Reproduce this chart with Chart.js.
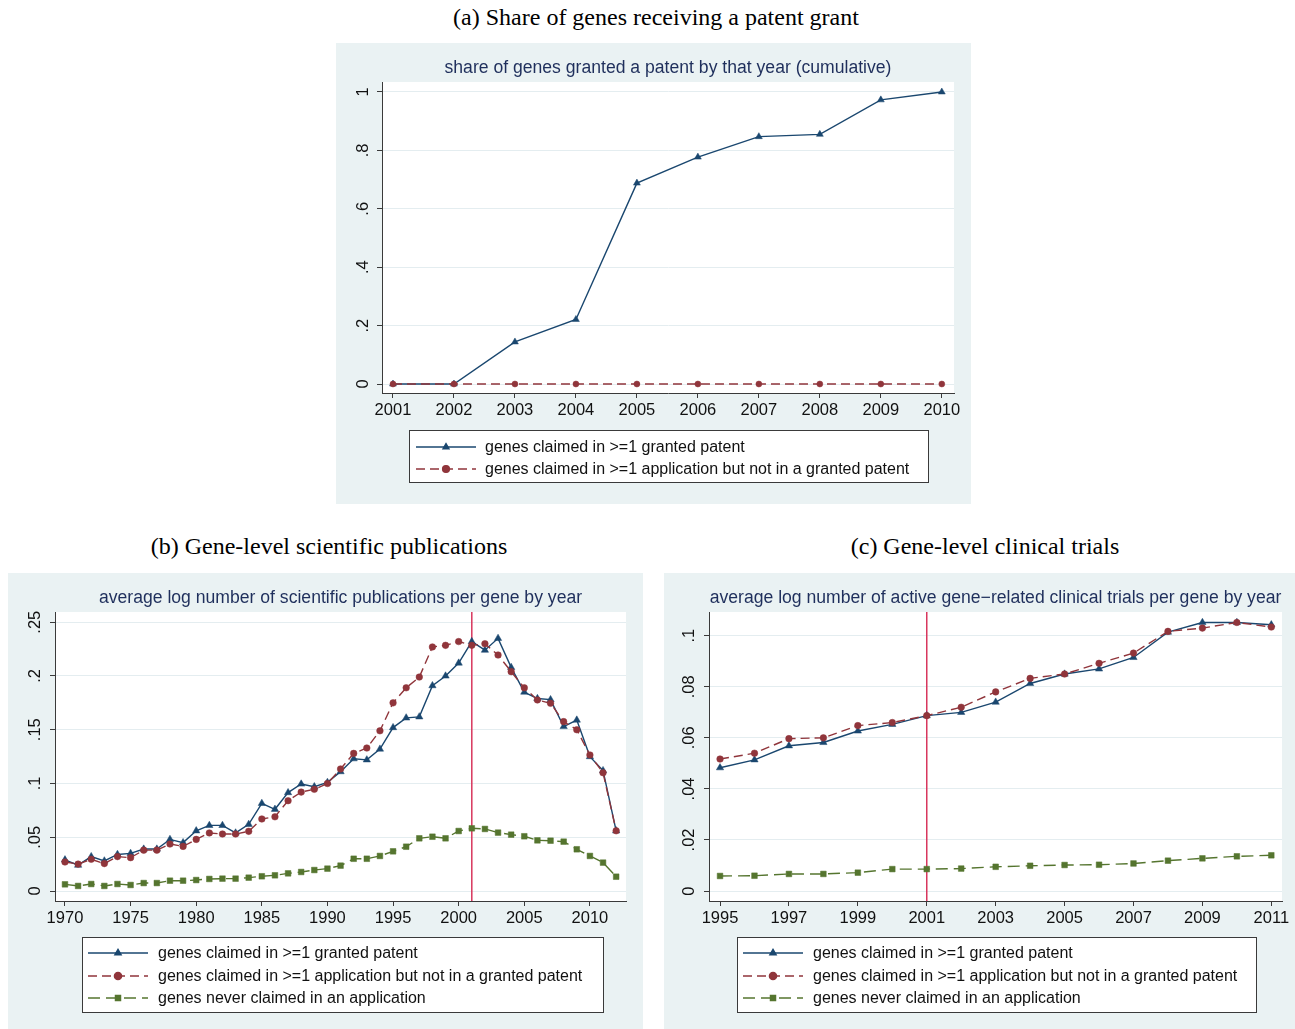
<!DOCTYPE html>
<html>
<head>
<meta charset="utf-8">
<script src="https://cdn.jsdelivr.net/npm/chart.js@4.4.1/dist/chart.umd.min.js"></script>
<style>
  html, body { margin: 0; padding: 0; background: #ffffff; }
  body { position: relative; width: 1295px; height: 1029px; overflow: hidden; }
  .panel { position: absolute; background: #eaf2f3; }
  .panel canvas { position: absolute; left: 0; top: 0; }
  .cap {
    position: absolute; width: 700px; text-align: center; white-space: nowrap;
    font-family: "Liberation Serif", "Times New Roman", serif;
    font-size: 24px; line-height: 26px; color: #000;
  }
</style>
</head>
<body>
<div class="cap" style="left:306px; top:4px;">(a) Share of genes receiving a patent grant</div>
<div class="cap" style="left:-21px; top:533px;">(b) Gene-level scientific publications</div>
<div class="cap" style="left:635px; top:533px;">(c) Gene-level clinical trials</div>

<div class="panel" style="left:336px; top:43px; width:635px; height:461px;">
  <canvas id="patents" width="635" height="461"></canvas>
</div>
<div class="panel" style="left:8px; top:573px; width:635px; height:456px;">
  <canvas id="pubs" width="635" height="456"></canvas>
</div>
<div class="panel" style="left:664px; top:573px; width:631px; height:456px;">
  <canvas id="trials" width="631" height="456"></canvas>
</div>

<script>
// ---------- data ----------
const labelGranted = 'genes claimed in >=1 granted patent';
const labelAppOnly = 'genes claimed in >=1 application but not in a granted patent';
const labelNever   = 'genes never claimed in an application';

// (a) cumulative share of genes granted a patent
const patentYears   = [2001, 2002, 2003, 2004, 2005, 2006, 2007, 2008, 2009, 2010];
const patentGranted = [0, 0, 0.144, 0.221, 0.688, 0.777, 0.847, 0.855, 0.973, 1.0];
const patentAppOnly = [0, 0, 0, 0, 0, 0, 0, 0, 0, 0];
const patentXTicks  = [2001, 2002, 2003, 2004, 2005, 2006, 2007, 2008, 2009, 2010];
const patentYTicks  = [0, 0.2, 0.4, 0.6, 0.8, 1];
const patentYLabels = ['0', '.2', '.4', '.6', '.8', '1'];

// (b) average log publications per gene
const pubYears = [1970, 1971, 1972, 1973, 1974, 1975, 1976, 1977, 1978, 1979,
                  1980, 1981, 1982, 1983, 1984, 1985, 1986, 1987, 1988, 1989,
                  1990, 1991, 1992, 1993, 1994, 1995, 1996, 1997, 1998, 1999,
                  2000, 2001, 2002, 2003, 2004, 2005, 2006, 2007, 2008, 2009,
                  2010, 2011, 2012];
const pubGranted = [0.029, 0.024, 0.032, 0.028, 0.034, 0.035, 0.039, 0.039, 0.048, 0.045,
                    0.056, 0.061, 0.061, 0.054, 0.062, 0.0815, 0.076, 0.0915, 0.0995, 0.097,
                    0.101, 0.111, 0.123, 0.122, 0.132, 0.152, 0.161, 0.162, 0.191, 0.200,
                    0.212, 0.232, 0.224, 0.235, 0.208, 0.185, 0.179, 0.178, 0.153, 0.159,
                    0.125, 0.112, 0.056];
const pubAppOnly = [0.027, 0.025, 0.0295, 0.0255, 0.032, 0.031, 0.038, 0.038, 0.0437, 0.0415,
                    0.048, 0.054, 0.053, 0.053, 0.0555, 0.067, 0.069, 0.084, 0.092, 0.0946,
                    0.100, 0.1135, 0.128, 0.133, 0.149, 0.175, 0.189, 0.199, 0.227, 0.2285,
                    0.232, 0.2285, 0.230, 0.2195, 0.204, 0.189, 0.1777, 0.1746, 0.1575, 0.150,
                    0.1265, 0.110, 0.056];
const pubNever   = [0.0062, 0.0047, 0.0065, 0.0047, 0.0065, 0.0056, 0.0074, 0.0074, 0.0096, 0.0096,
                    0.0102, 0.0112, 0.0115, 0.0115, 0.0124, 0.0137, 0.0146, 0.0164, 0.0177, 0.0195,
                    0.0208, 0.0236, 0.030, 0.030, 0.0326, 0.0369, 0.0412, 0.049, 0.0505, 0.049,
                    0.0558, 0.0583, 0.0577, 0.0543, 0.0524, 0.0509, 0.0471, 0.0468, 0.0459, 0.0388,
                    0.0326, 0.0264, 0.0133];
const pubXTicks  = [1970, 1975, 1980, 1985, 1990, 1995, 2000, 2005, 2010];
const pubYTicks  = [0, 0.05, 0.1, 0.15, 0.2, 0.25];
const pubYLabels = ['0', '.05', '.1', '.15', '.2', '.25'];

// (c) average log active clinical trials per gene
const trialYears   = [1995, 1996, 1997, 1998, 1999, 2000, 2001, 2002, 2003,
                      2004, 2005, 2006, 2007, 2008, 2009, 2010, 2011];
const trialGranted = [0.0483, 0.0514, 0.0569, 0.0582, 0.0627, 0.0653, 0.0687, 0.070, 0.074,
                      0.0813, 0.085, 0.087, 0.0915, 0.1014, 0.1052, 0.1052, 0.1043];
const trialAppOnly = [0.0517, 0.054, 0.0597, 0.060, 0.0648, 0.066, 0.0687, 0.072, 0.078,
                      0.0833, 0.085, 0.0892, 0.0932, 0.1017, 0.103, 0.1052, 0.1034];
const trialNever   = [0.0059, 0.006, 0.0067, 0.0067, 0.0072, 0.0086, 0.0086, 0.0088, 0.0095,
                      0.0099, 0.0102, 0.0103, 0.0108, 0.0119, 0.0128, 0.0136, 0.014];
const trialXTicks  = [1995, 1997, 1999, 2001, 2003, 2005, 2007, 2009, 2011];
const trialYTicks  = [0, 0.02, 0.04, 0.06, 0.08, 0.1];
const trialYLabels = ['0', '.02', '.04', '.06', '.08', '.1'];

// year of the reference line in (b) and (c)
const policyYear = 2001;

// ---------- styles ----------
const NAVY = '#1a476f', MAROON = '#90353b', GREEN = '#55752f';
const TITLE_COLOR = '#1f2f5c';
const AXIS_COLOR = '#3a3a3a';
const GRID_COLOR = '#e4edf0';
const VLINE_COLOR = '#d8365d';
const SANS = '"Liberation Sans", Arial, Helvetica, sans-serif';
const TICK_SIZE = 16.5;
const HEAD_SIZE = 17.6;
const KEY_SIZE = 16;

const seriesStyle = {
  granted: { color: NAVY,   dash: [],      marker: 'triangle', order: 3 },
  appOnly: { color: MAROON, dash: [9, 5],  marker: 'circle',   order: 2 },
  never:   { color: GREEN,  dash: [12, 6], marker: 'rect',     order: 1 }
};

function makeDataset(label, xs, ys, style, radius) {
  return {
    label: label,
    data: xs.map((x, i) => ({ x: x, y: ys[i] })),
    borderColor: style.color,
    backgroundColor: style.color,
    borderWidth: 1.4,
    borderDash: style.dash,
    pointStyle: style.marker,
    pointRadius: radius,
    pointBackgroundColor: style.color,
    pointBorderColor: style.color,
    pointBorderWidth: 0.5,
    tension: 0,
    fill: false,
    order: style.order
  };
}

function drawMarker(ctx, style, r, x, y) {
  if (window.Chart && Chart.helpers && Chart.helpers.drawPoint) {
    Chart.helpers.drawPoint(ctx, { pointStyle: style, radius: r, borderWidth: 0.5, rotation: 0 }, x, y);
    return;
  }
  ctx.beginPath();
  if (style === 'triangle') {
    ctx.moveTo(x, y - r);
    ctx.lineTo(x + r * 0.866, y + r * 0.5);
    ctx.lineTo(x - r * 0.866, y + r * 0.5);
    ctx.closePath();
  } else if (style === 'rect') {
    const s = r * Math.SQRT1_2;
    ctx.rect(x - s, y - s, 2 * s, 2 * s);
  } else {
    ctx.arc(x, y, r, 0, Math.PI * 2);
  }
  ctx.fill();
}

// white plot region, reference line, heading and boxed legend
const panelDecor = {
  id: 'panelDecor',
  beforeDraw(chart) {
    const { ctx, chartArea: a } = chart;
    ctx.save();
    ctx.fillStyle = '#ffffff';
    ctx.fillRect(a.left, a.top, a.right - a.left, a.bottom - a.top);
    ctx.restore();
  },
  beforeDatasetsDraw(chart, args, opts) {
    if (opts.vline == null) return;
    const { ctx, chartArea: a } = chart;
    const x = chart.scales.x.getPixelForValue(opts.vline);
    ctx.save();
    ctx.strokeStyle = VLINE_COLOR;
    ctx.lineWidth = 1.5;
    ctx.beginPath();
    ctx.moveTo(x, a.top);
    ctx.lineTo(x, a.bottom);
    ctx.stroke();
    ctx.restore();
  },
  afterDraw(chart, args, opts) {
    const { ctx, chartArea: a } = chart;
    ctx.save();
    // heading, centred over the plot region
    ctx.fillStyle = TITLE_COLOR;
    ctx.font = HEAD_SIZE + 'px ' + SANS;
    ctx.textAlign = 'center';
    ctx.textBaseline = 'middle';
    ctx.fillText(opts.title, (a.left + a.right) / 2, opts.titleY);

    // legend box
    const L = opts.legend;
    ctx.fillStyle = '#ffffff';
    ctx.fillRect(L.x, L.y, L.w, L.h);
    ctx.strokeStyle = AXIS_COLOR;
    ctx.lineWidth = 1;
    ctx.strokeRect(L.x + 0.5, L.y + 0.5, L.w, L.h);

    chart.data.datasets.forEach((ds, i) => {
      const y = L.rowY[i];
      ctx.strokeStyle = ds.borderColor;
      ctx.lineWidth = ds.borderWidth;
      ctx.setLineDash(ds.borderDash || []);
      ctx.beginPath();
      ctx.moveTo(L.lineX0, y);
      ctx.lineTo(L.lineX1, y);
      ctx.stroke();
      ctx.setLineDash([]);
      ctx.fillStyle = ds.pointBackgroundColor;
      ctx.strokeStyle = ds.pointBorderColor;
      drawMarker(ctx, ds.pointStyle, L.markerR, (L.lineX0 + L.lineX1) / 2, y);
      ctx.fillStyle = '#111111';
      ctx.font = KEY_SIZE + 'px ' + SANS;
      ctx.textAlign = 'left';
      ctx.textBaseline = 'middle';
      ctx.fillText(ds.label, L.textX, y + 1);
    });
    ctx.restore();
  }
};

function makeChart(id, cfg) {
  const canvas = document.getElementById(id);
  const W = canvas.width, H = canvas.height;
  const xAxisH = 30;
  return new Chart(canvas, {
    type: 'line',
    data: { datasets: cfg.datasets },
    plugins: [panelDecor],
    options: {
      responsive: false,
      animation: false,
      events: [],
      devicePixelRatio: 1,
      layout: {
        padding: {
          left: 0,
          top: cfg.area.top,
          right: W - cfg.area.right,
          bottom: H - cfg.area.bottom - xAxisH
        }
      },
      scales: {
        x: {
          type: 'linear',
          min: cfg.xRange[0],
          max: cfg.xRange[1],
          afterBuildTicks: s => { s.ticks = cfg.xTicks.map(v => ({ value: v })); },
          afterFit: s => { s.height = xAxisH; },
          ticks: {
            autoSkip: false, maxRotation: 0, minRotation: 0, padding: 3,
            color: '#111111', font: { family: SANS, size: TICK_SIZE },
            callback: v => String(v)
          },
          grid: { display: true, drawOnChartArea: false, drawTicks: true, tickLength: 5, tickColor: AXIS_COLOR, tickWidth: 1 },
          border: { display: true, color: AXIS_COLOR, width: 1 }
        },
        y: {
          type: 'linear',
          min: cfg.yRange[0],
          max: cfg.yRange[1],
          afterBuildTicks: s => { s.ticks = cfg.yTicks.map(v => ({ value: v })); },
          afterFit: s => { s.width = cfg.area.left; },
          ticks: {
            autoSkip: false, minRotation: 90, maxRotation: 90, crossAlign: 'center',
            padding: cfg.yLabelPad,
            color: '#111111', font: { family: SANS, size: TICK_SIZE },
            callback: (v, i) => cfg.yLabels[i]
          },
          grid: { display: true, drawOnChartArea: true, drawTicks: true, tickLength: 5,
                  color: GRID_COLOR, lineWidth: 1, tickColor: AXIS_COLOR, tickWidth: 1 },
          border: { display: true, color: AXIS_COLOR, width: 1 }
        }
      },
      plugins: {
        legend: { display: false },
        title: { display: false },
        tooltip: { enabled: false },
        panelDecor: {
          title: cfg.title,
          titleY: 25,
          vline: cfg.vline,
          legend: cfg.legend
        }
      }
    }
  });
}

// (a)
makeChart('patents', {
  datasets: [
    makeDataset(labelGranted, patentYears, patentGranted, seriesStyle.granted, 4),
    makeDataset(labelAppOnly, patentYears, patentAppOnly, seriesStyle.appOnly, 3)
  ],
  area: { left: 46, top: 39, right: 618, bottom: 350 },
  xRange: [2000.82, 2010.2],
  yRange: [-0.0308, 1.0342],
  xTicks: patentXTicks, yTicks: patentYTicks, yLabels: patentYLabels,
  yLabelPad: 7,
  vline: null,
  title: 'share of genes granted a patent by that year (cumulative)',
  legend: { x: 73, y: 387, w: 519, h: 52, rowY: [404, 426], lineX0: 80, lineX1: 140, markerR: 3.4, textX: 149 }
});

// (b)
makeChart('pubs', {
  datasets: [
    makeDataset(labelGranted, pubYears, pubGranted, seriesStyle.granted, 4.2),
    makeDataset(labelAppOnly, pubYears, pubAppOnly, seriesStyle.appOnly, 3.3),
    makeDataset(labelNever,   pubYears, pubNever,   seriesStyle.never,   4)
  ],
  area: { left: 47, top: 39, right: 618, bottom: 328 },
  xRange: [1969.24, 2012.75],
  yRange: [-0.0093, 0.2595],
  xTicks: pubXTicks, yTicks: pubYTicks, yLabels: pubYLabels,
  yLabelPad: 3,
  vline: policyYear,
  title: 'average log number of scientific publications per gene by year',
  legend: { x: 74, y: 364, w: 521, h: 75, rowY: [380, 403, 425], lineX0: 80, lineX1: 140, markerR: 3.6, textX: 150 }
});

// (c)
makeChart('trials', {
  datasets: [
    makeDataset(labelGranted, trialYears, trialGranted, seriesStyle.granted, 4.2),
    makeDataset(labelAppOnly, trialYears, trialAppOnly, seriesStyle.appOnly, 3.3),
    makeDataset(labelNever,   trialYears, trialNever,   seriesStyle.never,   4)
  ],
  area: { left: 45, top: 39, right: 618, bottom: 328 },
  xRange: [1994.68, 2011.31],
  yRange: [-0.0039, 0.1093],
  xTicks: trialXTicks, yTicks: trialYTicks, yLabels: trialYLabels,
  yLabelPad: 3,
  vline: policyYear,
  title: 'average log number of active gene\u2212related clinical trials per gene by year',
  legend: { x: 73, y: 364, w: 519, h: 75, rowY: [380, 403, 425], lineX0: 79, lineX1: 139, markerR: 3.6, textX: 149 }
});
</script>
</body>
</html>
